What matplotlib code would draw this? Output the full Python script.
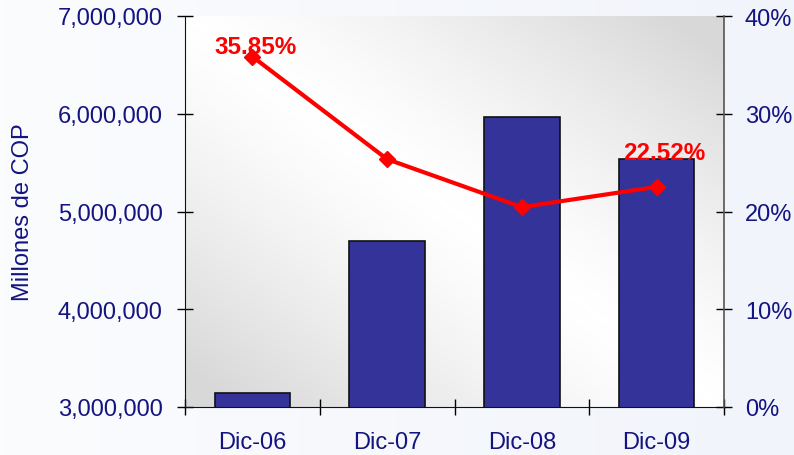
import matplotlib
matplotlib.use("Agg")
import matplotlib.pyplot as plt
import numpy as np
from matplotlib.ticker import FuncFormatter, FixedLocator

categories = ["Dic-06", "Dic-07", "Dic-08", "Dic-09"]
cop_millions = [3143000, 4698000, 5967000, 5537000]
growth_pct = [35.85, 25.35, 20.45, 22.52]
labelled = [0, 3]
left_ticks = [3000000, 4000000, 5000000, 6000000, 7000000]
right_ticks = [0, 10, 20, 30, 40]

plt.rcParams['font.family'] = ['Liberation Sans', 'DejaVu Sans']
navy = '#141480'

fig = plt.figure(figsize=(7.94, 4.56), dpi=100)
# figure background gradient (light bluish)
bg = fig.add_axes([0, 0, 1, 1], zorder=-10)
gx = np.linspace(0, 1, 200)
bgrad = np.tile(gx, (50, 1))
bg.imshow(bgrad, extent=[0, 1, 0, 1], aspect='auto',
          cmap=matplotlib.colors.LinearSegmentedColormap.from_list('b', ['#fbfcfe', '#f1f4fb']),
          vmin=0, vmax=1)
bg.axis('off')

ax = fig.add_axes([185/794, 1-408/456, (724-185)/794, (408-17)/456])
ax.set_facecolor('none')
# plot-area gradient: white along the main diagonal, grey toward top-right and bottom-left
u = np.linspace(0, 1, 300)
v = np.linspace(0, 1, 300)
U, V = np.meshgrid(u, v)  # V from top (row 0 = top)
D = np.clip(np.abs(U - V) * 1.1, 0, 1) ** 1.3
ax.imshow(D, extent=[0, 1, 0, 1], transform=ax.transAxes, aspect='auto',
          cmap=matplotlib.colors.LinearSegmentedColormap.from_list('g', ['#ffffff', '#d8d8d8']),
          vmin=0, vmax=1, zorder=0, origin='upper')

x = np.arange(len(categories))
ax.bar(x, cop_millions, width=0.56, color='#333399', edgecolor='#111111', linewidth=1.2, zorder=2)
ax.set_xlim(-0.5, 3.5)
ax.set_ylim(3000000, 7000000)
ax.yaxis.set_major_locator(FixedLocator(left_ticks))
ax.yaxis.set_major_formatter(FuncFormatter(lambda v, p: f"{v:,.0f}"))
ax.set_xticks(x)
ax.set_xticklabels(categories)
ax.set_xticks(np.arange(-0.5, 4, 1), minor=True)
ax.tick_params(axis='x', which='major', length=0, pad=17, labelsize=17, labelcolor=navy)
ax.tick_params(axis='x', which='minor', direction='inout', length=12, width=1)
ax.tick_params(axis='y', direction='inout', length=12, width=1, pad=10, labelsize=17, labelcolor=navy)
ax.set_ylabel("Millones de COP", fontsize=17, color=navy, labelpad=17)
for s in ['top', 'right']:
    ax.spines[s].set_visible(False)
ax.spines['left'].set_color('#111111')
ax.spines['bottom'].set_color('#111111')
ax.spines['left'].set_zorder(5)
ax.spines['bottom'].set_zorder(5)

ax2 = ax.twinx()
ax2.plot(x, growth_pct, color='#ff0000', lw=3, marker='D', markersize=8, zorder=3)
ax2.set_ylim(0, 40)
ax2.yaxis.set_major_locator(FixedLocator(right_ticks))
ax2.yaxis.set_major_formatter(FuncFormatter(lambda v, p: f"{v:.0f}%"))
ax2.tick_params(axis='y', direction='inout', length=12, width=1, pad=9, labelsize=17, labelcolor=navy)
for s in ['top', 'left', 'bottom']:
    ax2.spines[s].set_visible(False)
ax2.spines['right'].set_color('#555555')
ax2.spines['right'].set_linewidth(1.2)

offsets = {0: (3, 10), 3: (8, 34)}
for i in labelled:
    ax2.annotate(f"{growth_pct[i]:.2f}%", (x[i], growth_pct[i]), xytext=offsets[i],
                 textcoords='offset pixels', ha='center', va='center',
                 fontsize=17.5, fontweight='bold', color='#ff0000', zorder=6)

fig.savefig("out.png", dpi=100, facecolor=fig.get_facecolor())
